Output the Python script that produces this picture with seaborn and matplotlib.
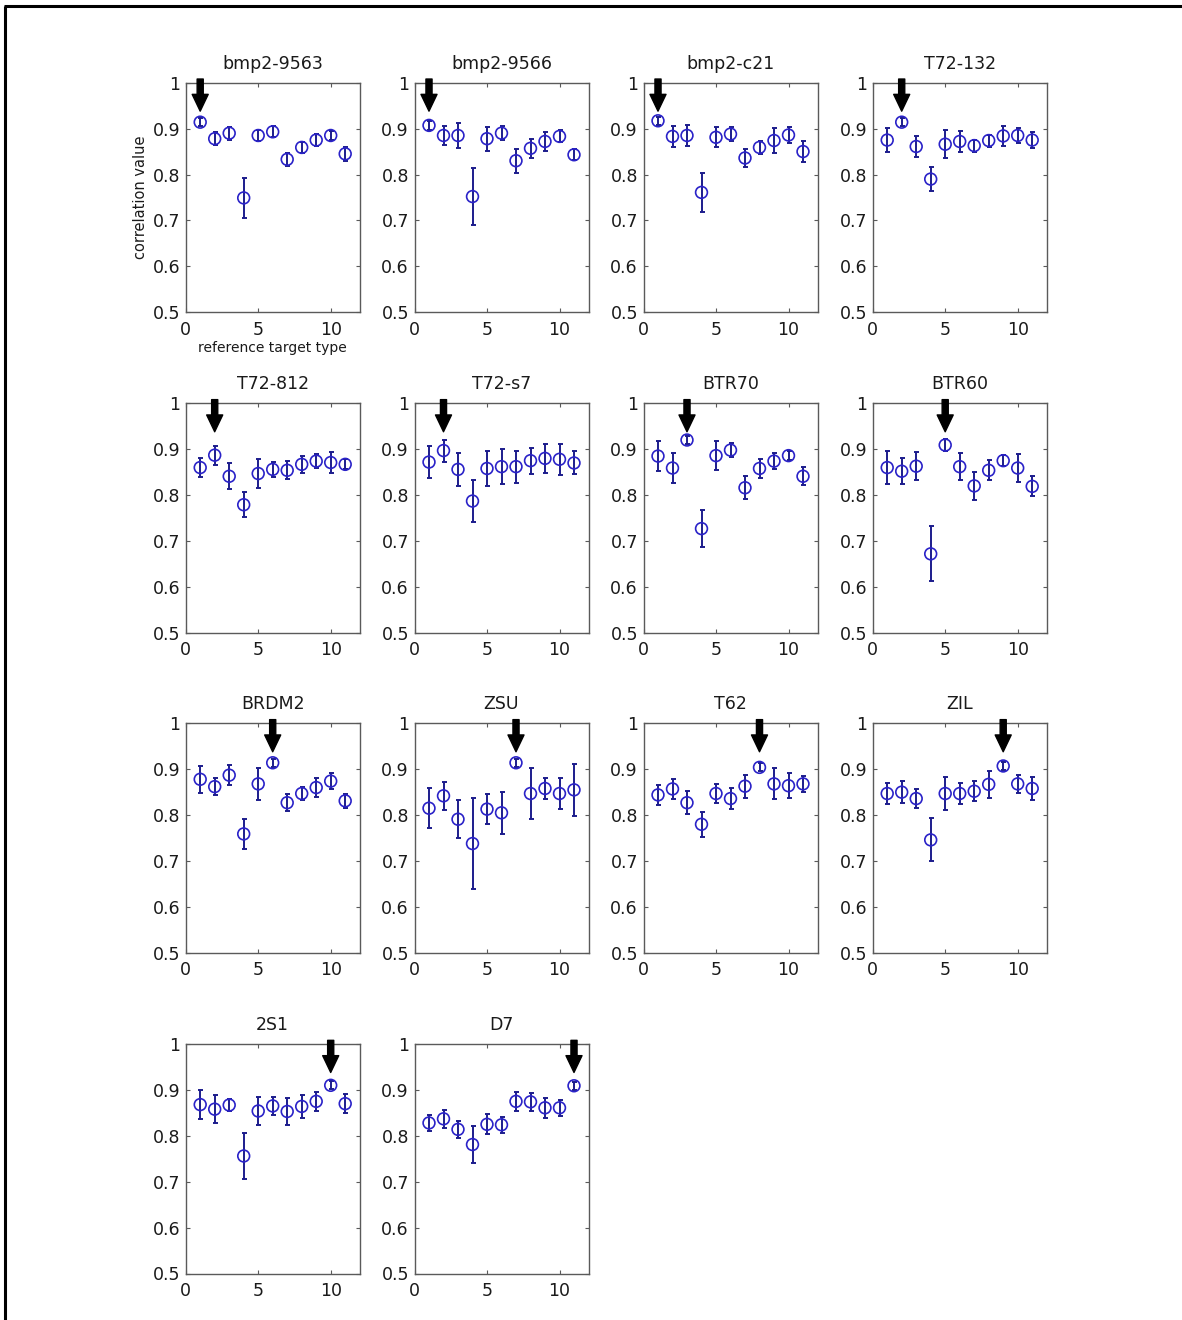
import numpy as np
import pandas as pd
import matplotlib
matplotlib.use("Agg")
import matplotlib.pyplot as plt
from matplotlib.lines import Line2D
import seaborn as sns

# ---------------------------------------------------------------- data
target_names = ["bmp2-9563", "bmp2-9566", "bmp2-c21", "T72-132",
                "T72-812", "T72-s7", "BTR70", "BTR60",
                "BRDM2", "ZSU", "T62", "ZIL",
                "2S1", "D7"]
reference_types = [1, 2, 3, 4, 5, 6, 7, 8, 9, 10, 11]
matched_type = [1, 1, 1, 2, 2, 2, 3, 5, 6, 7, 8, 9, 10, 11]

mean_bmp2_9563 = [0.914, 0.878, 0.890, 0.749, 0.885, 0.893, 0.833, 0.859, 0.875, 0.885, 0.845]
err_bmp2_9563 = [0.009, 0.014, 0.014, 0.043, 0.012, 0.012, 0.014, 0.012, 0.013, 0.010, 0.016]
mean_bmp2_9566 = [0.907, 0.885, 0.885, 0.752, 0.878, 0.890, 0.830, 0.857, 0.872, 0.883, 0.843]
err_bmp2_9566 = [0.009, 0.020, 0.027, 0.062, 0.026, 0.015, 0.026, 0.020, 0.020, 0.013, 0.012]
mean_bmp2_c21 = [0.917, 0.883, 0.885, 0.761, 0.881, 0.888, 0.836, 0.859, 0.874, 0.886, 0.850]
err_bmp2_c21 = [0.009, 0.022, 0.022, 0.042, 0.022, 0.015, 0.020, 0.015, 0.027, 0.018, 0.022]
mean_t72_132 = [0.875, 0.914, 0.861, 0.790, 0.866, 0.872, 0.863, 0.874, 0.884, 0.885, 0.875]
err_t72_132 = [0.026, 0.009, 0.022, 0.027, 0.030, 0.022, 0.013, 0.013, 0.022, 0.017, 0.017]
mean_t72_812 = [0.860, 0.887, 0.841, 0.779, 0.847, 0.856, 0.854, 0.867, 0.874, 0.871, 0.867]
err_t72_812 = [0.021, 0.021, 0.028, 0.027, 0.031, 0.017, 0.020, 0.018, 0.015, 0.022, 0.011]
mean_t72_s7 = [0.872, 0.897, 0.856, 0.787, 0.858, 0.862, 0.862, 0.875, 0.880, 0.878, 0.870]
err_t72_s7 = [0.034, 0.024, 0.036, 0.045, 0.038, 0.038, 0.035, 0.028, 0.031, 0.034, 0.025]
mean_btr70 = [0.885, 0.859, 0.920, 0.727, 0.886, 0.898, 0.816, 0.858, 0.874, 0.886, 0.841]
err_btr70 = [0.032, 0.033, 0.009, 0.041, 0.031, 0.015, 0.025, 0.020, 0.017, 0.010, 0.020]
mean_btr60 = [0.860, 0.852, 0.863, 0.672, 0.909, 0.862, 0.820, 0.854, 0.875, 0.859, 0.819]
err_btr60 = [0.035, 0.028, 0.030, 0.060, 0.014, 0.030, 0.030, 0.022, 0.012, 0.030, 0.022]
mean_brdm2 = [0.878, 0.862, 0.887, 0.759, 0.868, 0.914, 0.827, 0.847, 0.860, 0.874, 0.831]
err_brdm2 = [0.029, 0.018, 0.022, 0.033, 0.035, 0.009, 0.018, 0.015, 0.020, 0.017, 0.015]
mean_zsu = [0.815, 0.842, 0.791, 0.738, 0.813, 0.805, 0.914, 0.847, 0.858, 0.847, 0.855]
err_zsu = [0.044, 0.031, 0.041, 0.099, 0.033, 0.046, 0.009, 0.056, 0.022, 0.034, 0.057]
mean_t62 = [0.844, 0.857, 0.827, 0.780, 0.847, 0.836, 0.863, 0.904, 0.868, 0.864, 0.868]
err_t62 = [0.022, 0.022, 0.025, 0.027, 0.020, 0.022, 0.025, 0.009, 0.034, 0.027, 0.018]
mean_zil = [0.847, 0.850, 0.836, 0.746, 0.847, 0.847, 0.852, 0.867, 0.907, 0.868, 0.858]
err_zil = [0.023, 0.024, 0.020, 0.047, 0.036, 0.022, 0.022, 0.030, 0.009, 0.020, 0.025]
mean_2s1 = [0.868, 0.858, 0.867, 0.756, 0.854, 0.865, 0.853, 0.864, 0.875, 0.910, 0.870]
err_2s1 = [0.031, 0.030, 0.013, 0.050, 0.030, 0.020, 0.030, 0.025, 0.020, 0.009, 0.020]
mean_d7 = [0.828, 0.837, 0.814, 0.781, 0.825, 0.824, 0.875, 0.874, 0.861, 0.861, 0.909]
err_d7 = [0.018, 0.020, 0.018, 0.041, 0.022, 0.017, 0.020, 0.020, 0.022, 0.018, 0.009]

y_ticks = [0.5, 0.6, 0.7, 0.8, 0.9, 1.0]
y_tick_labels = ["0.5", "0.6", "0.7", "0.8", "0.9", "1"]
x_ticks = [0, 5, 10]
x_tick_labels = ["0", "5", "10"]

all_means = [mean_bmp2_9563, mean_bmp2_9566, mean_bmp2_c21, mean_t72_132,
             mean_t72_812, mean_t72_s7, mean_btr70, mean_btr60,
             mean_brdm2, mean_zsu, mean_t62, mean_zil, mean_2s1, mean_d7]
all_errs = [err_bmp2_9563, err_bmp2_9566, err_bmp2_c21, err_t72_132,
            err_t72_812, err_t72_s7, err_btr70, err_btr60,
            err_brdm2, err_zsu, err_t62, err_zil, err_2s1, err_d7]

rows = []
for name, m, e in zip(target_names, all_means, all_errs):
    for t, mv, ev in zip(reference_types, m, e):
        rows.append({"target": name, "ref": t, "corr": mv, "err": ev})
df = pd.DataFrame(rows)

# ---------------------------------------------------------------- style
sns.set_theme(style="white")
plt.rcParams["font.family"] = ["DejaVu Sans"]

W, H = 1182, 1320
fig = plt.figure(figsize=(W / 100, H / 100), dpi=100)

col_left = [185.7, 414.5, 643.5, 872.7]
row_top = [82.7, 403.3, 723.3, 1044.0]
ax_w, ax_h = 174.0, 229.5

blue = "#2a22c8"
bar_blue = "#1c1c8c"
spine_col = "#5a5a5a"
text_col = "#1a1a1a"

for i, name in enumerate(target_names):
    r, c = divmod(i, 4)
    left = col_left[c] / W
    bottom = (H - row_top[r] - ax_h) / H
    ax = fig.add_axes([left, bottom, ax_w / W, ax_h / H])
    sub = df[df["target"] == name]

    ax.errorbar(sub["ref"], sub["corr"], yerr=sub["err"], fmt="none",
                ecolor=bar_blue, elinewidth=1.4, capsize=1.8, capthick=1.4,
                zorder=2)
    sns.scatterplot(data=sub, x="ref", y="corr", ax=ax, marker="o", s=72,
                    facecolor="none", edgecolor=blue, linewidth=1.2,
                    zorder=3, legend=False)

    mt = matched_type[i]
    ax.annotate("", xy=(mt, 0.938), xytext=(mt, 1.008),
                xycoords="data", textcoords="data", annotation_clip=False,
                arrowprops=dict(arrowstyle="simple,head_length=1.1,head_width=1.05,tail_width=0.4",
                                mutation_scale=11, color="black",
                                shrinkA=0, shrinkB=0), zorder=4)

    ax.set_xlim(0, 12)
    ax.set_ylim(0.5, 1.0)
    ax.set_xticks(x_ticks)
    ax.set_xticklabels(x_tick_labels)
    ax.set_yticks(y_ticks)
    ax.set_yticklabels(y_tick_labels)
    ax.tick_params(direction="in", length=3, width=0.8, color=spine_col,
                   labelsize=12.5, labelcolor=text_col,
                   top=True, right=True, bottom=True, left=True)
    ax.tick_params(axis="x", pad=6)
    ax.tick_params(axis="y", pad=4)
    for sp in ax.spines.values():
        sp.set_color(spine_col)
        sp.set_linewidth(1.0)
    ax.set_title(name, fontsize=12.5, color=text_col, pad=10)
    if i == 0:
        ax.set_ylabel("correlation value", fontsize=10.5, color=text_col, labelpad=3)
        ax.set_xlabel("reference target type", fontsize=10, color=text_col, labelpad=2)
    else:
        ax.set_xlabel("")
        ax.set_ylabel("")

# outer frame on the left and top edges
fig.add_artist(Line2D([5 / W, 5 / W], [0, 1 - 6 / H], transform=fig.transFigure,
                      color="black", linewidth=2.2, solid_capstyle="butt"))
fig.add_artist(Line2D([4 / W, 1], [1 - 6 / H, 1 - 6 / H], transform=fig.transFigure,
                      color="black", linewidth=2.2, solid_capstyle="butt"))

fig.savefig("out.png", dpi=100, facecolor="white")
